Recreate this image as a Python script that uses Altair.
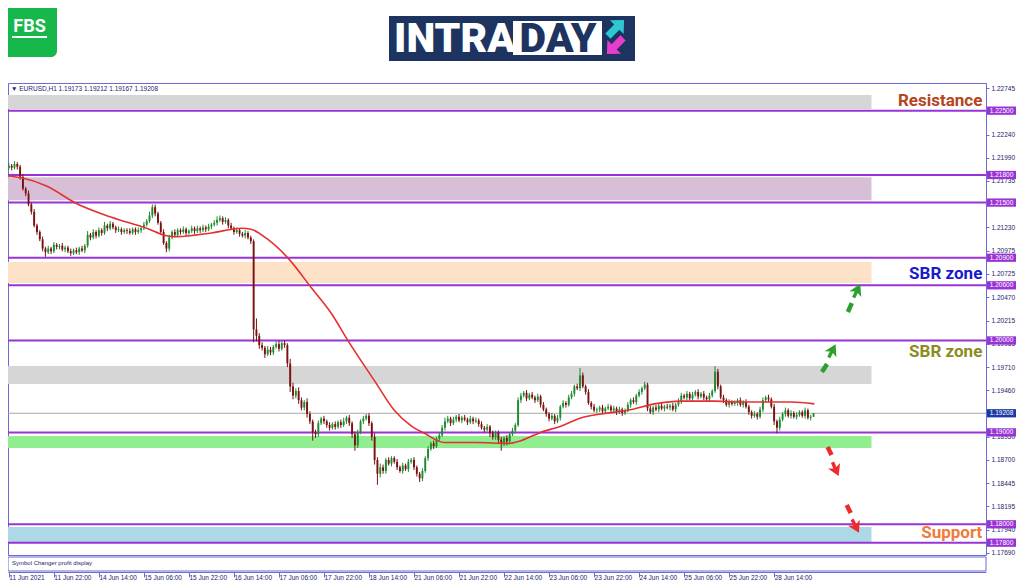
import altair as alt
import pandas as pd

# ---------------- candle data (closes in pips = price*10000), per trading day ----------------
close_jun11 = [12190, 12188, 12192, 12189, 12178, 12165, 12160, 12148, 12140, 12125, 12118, 12110,
               12100, 12096, 12100, 12097, 12104, 12102]
close_jun14 = [12103, 12099, 12101, 12097, 12095, 12098, 12096, 12100, 12098, 12103, 12115, 12112,
               12118, 12114, 12120, 12117, 12125, 12122, 12127, 12123, 12120, 12121, 12118, 12120]
close_jun15 = [12119, 12117, 12121, 12118, 12120, 12122, 12126, 12130, 12136, 12145, 12138, 12128,
               12118, 12106, 12100, 12112, 12118, 12115, 12120, 12118, 12121, 12117, 12119, 12122]
close_jun16 = [12119, 12122, 12120, 12123, 12121, 12124, 12126, 12128, 12131, 12133, 12129, 12131,
               12125, 12122, 12118, 12120, 12116, 12114, 12117, 12112, 12108, 12012, 12005, 11995]
close_jun17 = [11992, 11985, 11990, 11987, 11993, 11996, 11991, 11997, 11995, 11975, 11950, 11940,
               11945, 11935, 11927, 11933, 11920, 11912, 11900, 11898, 11910, 11915, 11912, 11908]
close_jun18 = [11905, 11909, 11906, 11911, 11908, 11912, 11916, 11910, 11898, 11886, 11900, 11912,
               11915, 11918, 11910, 11895, 11870, 11855, 11862, 11858, 11870, 11866, 11872, 11868]
close_jun21 = [11862, 11858, 11864, 11860, 11868, 11870, 11862, 11855, 11850, 11858, 11872, 11882,
               11888, 11885, 11893, 11897, 11905, 11912, 11915, 11910, 11914, 11917, 11913, 11916]
close_jun22 = [11914, 11911, 11915, 11912, 11913, 11909, 11905, 11903, 11906, 11899, 11895, 11900,
               11892, 11888, 11894, 11890, 11898, 11902, 11908, 11935, 11940, 11943, 11937, 11941]
close_jun23 = [11938, 11935, 11939, 11930, 11925, 11920, 11915, 11918, 11912, 11916, 11928, 11932,
               11930, 11938, 11942, 11950, 11948, 11962, 11950, 11944, 11932, 11928, 11924, 11925]
close_jun24 = [11927, 11923, 11926, 11928, 11924, 11926, 11922, 11925, 11921, 11924, 11930, 11935,
               11933, 11940, 11944, 11948, 11952, 11926, 11922, 11927, 11925, 11929, 11926, 11928]
close_jun25 = [11927, 11929, 11925, 11930, 11934, 11940, 11938, 11942, 11937, 11941, 11944, 11939,
               11942, 11938, 11936, 11940, 11945, 11966, 11950, 11938, 11935, 11930, 11933, 11931]
close_jun28 = [11932, 11935, 11930, 11933, 11928, 11922, 11918, 11920, 11917, 11925, 11935, 11938,
               11936, 11928, 11912, 11905, 11914, 11920, 11924, 11918, 11921, 11917, 11919, 11922]
close_jun29 = [11918, 11924, 11916, 11917, 11921]
FIRST_OPEN = 12188

# upper / lower wick lengths (pips)
up_jun11 = [3, 2, 3, 2, 2, 3, 2, 3, 2, 3, 2, 2, 3, 2, 3, 2, 3, 2]
up_jun14 = [2, 3, 2, 2, 3, 2, 3, 2, 3, 2, 4, 2, 3, 2, 3, 2, 4, 2, 3, 2, 2, 3, 2, 2]
up_jun15 = [2, 3, 2, 2, 3, 2, 3, 2, 4, 3, 3, 2, 2, 3, 2, 3, 2, 3, 2, 2, 3, 2, 2, 3]
up_jun16 = [2, 3, 2, 3, 2, 3, 2, 3, 4, 3, 2, 3, 2, 3, 2, 3, 2, 2, 3, 2, 2, 2, 12, 3]
up_jun17 = [3, 2, 4, 3, 2, 3, 4, 2, 3, 2, 5, 4, 3, 4, 3, 2, 4, 3, 2, 3, 3, 2, 3, 2]
up_jun18 = [3, 2, 3, 2, 3, 4, 2, 3, 2, 3, 3, 2, 3, 2, 3, 2, 4, 3, 4, 3, 2, 3, 2, 2]
up_jun21 = [3, 2, 3, 2, 3, 2, 3, 2, 2, 3, 2, 3, 2, 3, 2, 3, 3, 4, 3, 2, 3, 2, 3, 2]
up_jun22 = [3, 2, 3, 2, 3, 2, 3, 2, 3, 2, 3, 2, 2, 3, 2, 3, 2, 3, 2, 3, 3, 2, 3, 2]
up_jun23 = [3, 2, 3, 2, 3, 2, 2, 3, 2, 3, 2, 3, 2, 3, 3, 2, 3, 8, 3, 2, 3, 2, 3, 2]
up_jun24 = [2, 3, 2, 3, 2, 3, 2, 3, 2, 2, 3, 2, 3, 2, 3, 2, 3, 2, 3, 2, 3, 2, 3, 2]
up_jun25 = [3, 2, 3, 2, 3, 3, 2, 3, 2, 3, 2, 3, 2, 3, 2, 3, 2, 6, 3, 2, 3, 2, 3, 2]
up_jun28 = [3, 2, 3, 2, 3, 2, 2, 3, 2, 3, 3, 2, 3, 2, 3, 2, 3, 2, 3, 2, 3, 2, 3, 2]
up_jun29 = [2, 3, 2, 2, 0]

dn_jun11 = [2, 3, 2, 3, 3, 2, 3, 2, 3, 2, 3, 2, 3, 5, 2, 3, 2, 3]
dn_jun14 = [3, 2, 3, 2, 3, 2, 2, 3, 2, 3, 2, 3, 2, 3, 2, 3, 2, 3, 2, 2, 3, 2, 3, 2]
dn_jun15 = [3, 2, 2, 3, 2, 3, 2, 2, 2, 3, 3, 2, 3, 2, 4, 3, 2, 3, 2, 3, 2, 3, 2, 2]
dn_jun16 = [3, 2, 3, 2, 3, 2, 3, 2, 3, 2, 3, 2, 3, 2, 3, 2, 3, 2, 3, 2, 3, 14, 6, 4]
dn_jun17 = [3, 4, 2, 3, 3, 2, 3, 2, 3, 4, 6, 4, 3, 4, 3, 3, 4, 3, 9, 4, 3, 2, 3, 3]
dn_jun18 = [3, 2, 3, 2, 3, 2, 3, 3, 4, 6, 3, 2, 3, 2, 3, 4, 5, 12, 4, 3, 3, 2, 3, 2]
dn_jun21 = [3, 2, 3, 2, 3, 2, 3, 3, 4, 3, 2, 3, 2, 3, 2, 3, 2, 3, 2, 3, 2, 3, 2, 3]
dn_jun22 = [2, 3, 2, 3, 2, 3, 2, 3, 2, 4, 3, 3, 4, 8, 3, 4, 3, 2, 3, 2, 3, 2, 3, 2]
dn_jun23 = [2, 3, 2, 3, 2, 3, 3, 2, 3, 2, 3, 2, 3, 2, 2, 3, 2, 3, 2, 3, 2, 3, 2, 3]
dn_jun24 = [3, 2, 3, 2, 3, 2, 3, 2, 3, 2, 2, 3, 2, 3, 2, 3, 2, 3, 2, 3, 2, 3, 2, 3]
dn_jun25 = [2, 3, 2, 3, 2, 3, 2, 3, 2, 3, 2, 3, 2, 3, 2, 3, 2, 2, 3, 2, 3, 2, 3, 2]
dn_jun28 = [2, 3, 2, 3, 2, 3, 3, 2, 3, 2, 3, 2, 3, 2, 4, 6, 3, 2, 3, 2, 3, 2, 3, 2]
dn_jun29 = [2, 3, 2, 3, 0]

# moving average (bar index, pips)
ma_idx = [0, 4.5, 13.4, 24, 36.5, 49, 56, 59.6, 72, 82.7, 86, 91.6, 99.4, 107.6, 114.7, 120.7, 130,
          137, 143, 147.7, 154.8, 166, 177.6, 182, 189, 196.4, 203.5, 210.6, 220, 229.5, 239, 250.8,
          260, 278, 286.3]
ma_val = [12179, 12177, 12168, 12149, 12134, 12122, 12114, 12113, 12117, 12122, 12121, 12111, 12089,
          12057, 12029, 11999, 11956, 11924, 11907, 11899, 11889, 11889, 11888, 11891, 11900, 11907,
          11916, 11920, 11924, 11931, 11934, 11934, 11933, 11933, 11931]

# horizontal levels and zones
levels = [1.22500, 1.21800, 1.21500, 1.20900, 1.20600, 1.20000, 1.19000, 1.18000, 1.17800]
current_price = 1.19208
zone_top = [1.22671, 1.21776, 1.20853, 1.19722, 1.18961, 1.17971]
zone_bot = [1.22518, 1.21526, 1.20624, 1.19526, 1.18831, 1.17808]
zone_col = ["#d6d6d6", "#d8bfd8", "#fde2c8", "#d6d6d6", "#90ee90", "#add8e6"]
zone_end = 306.6

label_text = ["Resistance", "SBR zone", "SBR zone", "Support"]
label_price = [1.22606, 1.20723, 1.19874, 1.17907]
label_col = ["#b5451b", "#1a1acd", "#8c8c1e", "#f07b3c"]
label_x = 346.0

# arrows: short dash (x0,y0)->(x1,y1), filled head at (hx,hy)
arr_x0 = [289.0, 298.2, 291.0, 297.8]
arr_y0 = [1.19657, 1.20310, 1.18841, 1.18210]
arr_x1 = [290.8, 299.6, 292.4, 299.2]
arr_y1 = [1.19744, 1.20407, 1.18754, 1.18123]
arr_hx = [292.6, 301.4, 293.8, 300.9]
arr_hy = [1.19885, 1.20538, 1.18602, 1.17982]
arr_ang = [27, 26, 156, 153]
arr_col = ["#2ca02c", "#2ca02c", "#ee2a2a", "#ee2a2a"]

time_labels = ["11 Jun 2021", "11 Jun 22:00", "14 Jun 14:00", "15 Jun 06:00", "15 Jun 22:00",
               "16 Jun 14:00", "17 Jun 06:00", "17 Jun 22:00", "18 Jun 14:00", "21 Jun 06:00",
               "21 Jun 22:00", "22 Jun 14:00", "23 Jun 06:00", "23 Jun 22:00", "24 Jun 14:00",
               "25 Jun 06:00", "25 Jun 22:00", "28 Jun 14:00"]
time_tick_step = 16
price_ticks = [1.22745, 1.22240, 1.21990, 1.21735, 1.21230, 1.20975, 1.20725, 1.20470, 1.20215,
               1.19965, 1.19710, 1.19460, 1.18950, 1.18700, 1.18445, 1.18195, 1.17940, 1.17690]

X_DOMAIN = [-0.3, 347.3]
Y_DOMAIN = [1.17666, 1.22801]

# ---------------- build tables ----------------
CLOSES = (close_jun11 + close_jun14 + close_jun15 + close_jun16 + close_jun17 + close_jun18 +
          close_jun21 + close_jun22 + close_jun23 + close_jun24 + close_jun25 + close_jun28 + close_jun29)
UPS = (up_jun11 + up_jun14 + up_jun15 + up_jun16 + up_jun17 + up_jun18 + up_jun21 + up_jun22 +
       up_jun23 + up_jun24 + up_jun25 + up_jun28 + up_jun29)
DNS = (dn_jun11 + dn_jun14 + dn_jun15 + dn_jun16 + dn_jun17 + dn_jun18 + dn_jun21 + dn_jun22 +
       dn_jun23 + dn_jun24 + dn_jun25 + dn_jun28 + dn_jun29)
assert len(CLOSES) == len(UPS) == len(DNS), (len(CLOSES), len(UPS), len(DNS))

rows = []
prev = FIRST_OPEN
for i, c in enumerate(CLOSES):
    o = prev
    rows.append(dict(i=i, open=o / 1e4, close=c / 1e4,
                     high=(max(o, c) + UPS[i]) / 1e4, low=(min(o, c) - DNS[i]) / 1e4,
                     col="#1e8c2e" if c >= o else "#7a1212"))
    prev = c
candles = pd.DataFrame(rows)

ma = pd.DataFrame({"i": ma_idx, "v": [v / 1e4 for v in ma_val]})
zones = pd.DataFrame({"x0": [X_DOMAIN[0]] * len(zone_top), "x1": [zone_end] * len(zone_top),
                      "top": zone_top, "bot": zone_bot, "col": zone_col})
lv = pd.DataFrame({"y": levels, "x0": X_DOMAIN[0], "x1": X_DOMAIN[1]})
lv["lo"] = lv["y"] - 0.00045
lv["hi"] = lv["y"] + 0.00045
lv["txt"] = [f"{v:.5f}" for v in levels]
cur = pd.DataFrame({"y": [current_price], "x0": X_DOMAIN[0], "x1": X_DOMAIN[1],
                    "lo": [current_price - 0.00045], "hi": [current_price + 0.00045],
                    "txt": [f"{current_price:.5f}"]})
labels = pd.DataFrame({"t": label_text, "y": label_price, "col": label_col, "x": label_x})
arrows = pd.DataFrame({"x0": arr_x0, "y0": arr_y0, "x1": arr_x1, "y1": arr_y1,
                       "hx": arr_hx, "hy": arr_hy, "ang": arr_ang, "col": arr_col})
one = pd.DataFrame({"a": [0]})

XS = alt.Scale(domain=X_DOMAIN, nice=False, zero=False, padding=0)
YS = alt.Scale(domain=Y_DOMAIN, nice=False, zero=False, padding=0)
AX = "#6b6bd6"
NAVY = "#23236e"
FONT = "Liberation Sans"

label_expr = "[" + ",".join(f"'{t}'" for t in time_labels) + "][round(datum.value/%d)]" % time_tick_step

X_AXIS = alt.Axis(values=[k * time_tick_step for k in range(len(time_labels))],
                  labelExpr=label_expr, offset=17, orient="bottom", grid=False,
                  domainColor=AX, tickColor=AX, tickSize=5, labelAlign="left",
                  labelBaseline="top", labelPadding=-3, labelFontSize=6.5,
                  labelFont=FONT, labelColor=NAVY, labelOverlap=False, labelFlush=False, title=None)
Y_AXIS = alt.Axis(values=price_ticks, format=".5f", orient="right", grid=False,
                  domainColor=AX, tickColor=AX, tickSize=3, labelPadding=2,
                  labelFontSize=6.5, labelFont=FONT, labelColor=NAVY,
                  labelOverlap=False, labelFlush=False, title=None)


def X(f):
    return alt.X(f"{f}:Q", scale=XS, axis=X_AXIS, title=None)


def Y(f):
    return alt.Y(f"{f}:Q", scale=YS, axis=Y_AXIS, title=None)


zone_layer = alt.Chart(zones).mark_rect().encode(
    x=X("x0"), x2="x1", y=Y("top"), y2="bot", color=alt.Color("col:N", scale=None))

cur_line = alt.Chart(cur).mark_rule(color="#a8a8a8", strokeWidth=1).encode(
    x=X("x0"), x2="x1", y=Y("y"))

level_lines = alt.Chart(lv).mark_rule(color="#9933d6", strokeWidth=2).encode(
    x=X("x0"), x2="x1", y=Y("y"))

wicks = alt.Chart(candles).mark_rule(strokeWidth=1).encode(
    x=X("i"), y=Y("low"), y2="high", color=alt.Color("col:N", scale=None))

bodies = alt.Chart(candles).mark_bar(size=1.9).encode(
    x=X("i"), y=Y("open"), y2="close", color=alt.Color("col:N", scale=None))

ma_line = alt.Chart(ma).mark_line(color="#e53030", strokeWidth=1.6, interpolate="monotone").encode(
    x=X("i"), y=Y("v"))

shafts = alt.Chart(arrows).mark_rule(strokeWidth=4.5).encode(
    x=X("x0"), x2="x1", y=Y("y0"), y2="y1", color=alt.Color("col:N", scale=None))

HEAD = "M0,-1L0.85,0.45L0.22,0.18L0.22,0.95L-0.22,0.95L-0.22,0.18L-0.85,0.45Z"
heads = alt.Chart(arrows).mark_point(shape=HEAD, filled=True, size=240, opacity=1).encode(
    x=X("hx"), y=Y("hy"), angle=alt.Angle("ang:Q", scale=None), color=alt.Color("col:N", scale=None))

zone_labels = alt.Chart(labels).mark_text(align="right", baseline="middle", fontSize=17,
                                          fontWeight="bold", font="Roboto").encode(
    x=X("x"), y=Y("y"), text="t:N", color=alt.Color("col:N", scale=None))

lvl_boxes = alt.Chart(lv).mark_rect(color="#9933d6").encode(
    x=alt.value(979), x2=alt.value(1008), y=Y("hi"), y2="lo")
lvl_text = alt.Chart(lv).mark_text(color="white", fontSize=6.5, font=FONT, align="center",
                                   baseline="middle").encode(
    x=alt.value(993.5), y=Y("y"), text="txt:N")
cur_box = alt.Chart(cur).mark_rect(color="#1c3aa8").encode(
    x=alt.value(979), x2=alt.value(1008), y=Y("hi"), y2="lo")
cur_text = alt.Chart(cur).mark_text(color="white", fontSize=6.5, font=FONT, align="center",
                                    baseline="middle").encode(
    x=alt.value(993.5), y=Y("y"), text="txt:N")

header = alt.Chart(one).mark_text(text="▼ EURUSD,H1  1.19173 1.19212 1.19167 1.19208", align="left",
                                  baseline="middle", fontSize=6.5, font=FONT, color=NAVY).encode(
    x=alt.value(3), y=alt.value(6))

sub_box = alt.Chart(one).mark_rect(fill="white", stroke=AX, strokeWidth=1).encode(
    x=alt.value(0), x2=alt.value(978), y=alt.value(474), y2=alt.value(488))
sub_text = alt.Chart(one).mark_text(text="Symbol Changer profit display", align="left",
                                    baseline="middle", fontSize=6, font=FONT, color=NAVY).encode(
    x=alt.value(4), y=alt.value(480))

# logos (decoration above the plot)
fbs_box = alt.Chart(one).mark_rect(color="#17b84b", cornerRadius=6).encode(
    x=alt.value(-8), x2=alt.value(49), y=alt.value(-83), y2=alt.value(-26))
fbs_text = alt.Chart(one).mark_text(text="FBS", color="white", fontSize=18, fontWeight="bold",
                                    font="Roboto", align="center", baseline="middle").encode(
    x=alt.value(21.5), y=alt.value(-56))
fbs_line = alt.Chart(one).mark_rect(color="white").encode(
    x=alt.value(4), x2=alt.value(39), y=alt.value(-47), y2=alt.value(-45))
banner = alt.Chart(one).mark_rect(color="#1d3461").encode(
    x=alt.value(381), x2=alt.value(627), y=alt.value(-67), y2=alt.value(-22))
day_box = alt.Chart(one).mark_rect(color="white").encode(
    x=alt.value(505), x2=alt.value(594), y=alt.value(-62), y2=alt.value(-28))
intra_text = alt.Chart(one).mark_text(text="INTRA", color="white", fontSize=41, fontWeight=900,
                                      font="Roboto", align="left", baseline="middle").encode(
    x=alt.value(386), y=alt.value(-43.5))
day_text = alt.Chart(one).mark_text(text="DAY", color="#1d3461", fontSize=41, fontWeight=900,
                                    font="Roboto", align="center", baseline="middle").encode(
    x=alt.value(550), y=alt.value(-43.5))
ARROW = "M0,-1L0.85,-0.1L0.32,-0.1L0.32,1L-0.32,1L-0.32,-0.1L-0.85,-0.1Z"
cyan_arrow = alt.Chart(one).mark_point(shape=ARROW, filled=True, color="#2ec8d2", size=520,
                                       angle=45, opacity=1).encode(
    x=alt.value(608), y=alt.value(-55))
mag_arrow = alt.Chart(one).mark_point(shape=ARROW, filled=True, color="#e83ccc", size=520,
                                      angle=225, opacity=1).encode(
    x=alt.value(607), y=alt.value(-37))

chart = alt.layer(
    zone_layer, cur_line, level_lines, wicks, bodies, ma_line, shafts, heads, zone_labels,
    lvl_boxes, lvl_text, cur_box, cur_text, header, sub_box, sub_text,
    fbs_box, fbs_text, fbs_line, banner, day_box, intra_text, day_text, cyan_arrow, mag_arrow
).properties(
    width=978, height=472,
    padding={"left": 0, "top": 75, "right": 30, "bottom": 30},
    autosize=alt.AutoSizeParams(type="none"),
    background="white",
).configure_view(stroke=AX, strokeWidth=1)

chart.save("out.html", embed_options={"renderer": "svg", "actions": False})
